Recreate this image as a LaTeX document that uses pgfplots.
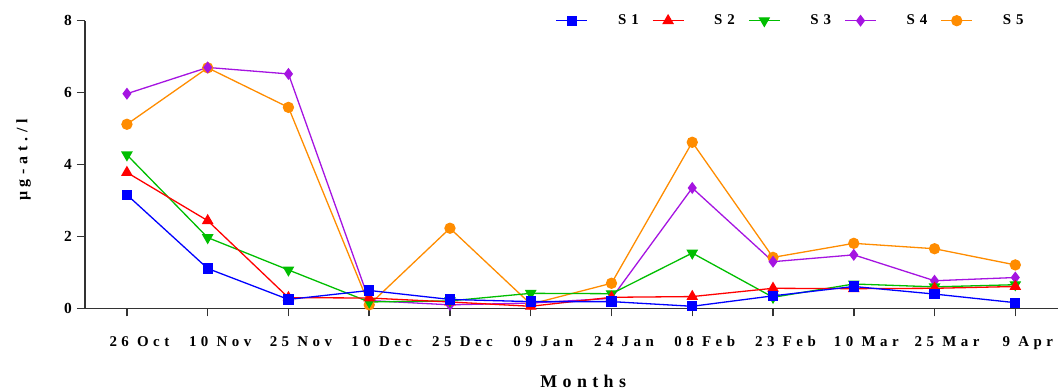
\documentclass[border=0pt]{standalone}
\usepackage{pgfplots}
\pgfplotsset{compat=1.18}
\usepackage{fontspec}
\setmainfont{Liberation Serif}
\newfontfamily\spaced{Liberation Serif}[LetterSpace=30]
\newfontfamily\legspaced{Liberation Serif}[LetterSpace=15]

\definecolor{sOne}{RGB}{0,0,255}
\definecolor{sTwo}{RGB}{255,0,0}
\definecolor{sThree}{RGB}{0,190,0}
\definecolor{sFour}{RGB}{165,20,225}
\definecolor{sFive}{RGB}{255,140,0}

% nutrient concentration per station, sampling dates 0..11
\pgfplotstableread{
x  s1    s2    s3    s4    s5
0  3.16  3.78  4.27  5.97  5.12
1  1.11  2.44  1.97  6.70  6.69
2  0.25  0.30  1.07  6.52  5.59
3  0.50  0.29  0.18  0.22  0.10
4  0.25  0.18  0.21  0.10  2.23
5  0.19  0.06  0.42  0.15  0.12
6  0.19  0.31  0.41  0.28  0.70
7  0.06  0.33  1.54  3.35  4.62
8  0.35  0.56  0.31  1.30  1.42
9  0.61  0.55  0.68  1.49  1.81
10 0.40  0.56  0.60  0.77  1.66
11 0.16  0.61  0.66  0.86  1.21
}\stations

\pgfplotsset{
  sA/.style={sOne, line width=1.3bp, mark=square*, mark size=4.5bp, mark options={solid}},
  sB/.style={sTwo, line width=1.3bp, mark=triangle*, mark size=5.5bp, mark options={solid}},
  sC/.style={sThree, line width=1.3bp, mark=triangle*, mark size=5.5bp, mark options={solid, rotate=180}},
  sD/.style={sFour, line width=1.3bp, mark=diamond*, mark size=5bp, mark options={solid}},
  sE/.style={sFive, line width=1.3bp, mark=*, mark size=5bp, mark options={solid}},
}

\begin{document}
\begin{tikzpicture}
\begin{axis}[
  scale only axis,
  width=974bp, height=288bp,
  xmin=-0.52, xmax=11.53,
  ymin=0, ymax=8,
  axis lines*=left,
  axis line style={line width=1.8bp, black!80},
  tick style={line width=1.5bp, black!80},
  tick align=outside,
  major tick length=8bp,
  xtick={0,...,11},
  xticklabels={26 Oct, 10 Nov, 25 Nov, 10 Dec, 25 Dec, 09 Jan, 24 Jan, 08 Feb, 23 Feb, 10 Mar, 25 Mar, 9 Apr},
  xticklabel style={font=\spaced\bfseries\fontsize{15}{15}\selectfont, anchor=north, inner sep=0pt, yshift=-20bp, xshift=12.5bp},
  ytick={0,2,4,6,8},
  yticklabel style={font=\bfseries\fontsize{15.5}{15.5}\selectfont, anchor=east, inner sep=0pt, xshift=-5bp},
  /pgf/number format/assume math mode=true,
  xlabel={Months},
  xlabel style={font=\spaced\bfseries\fontsize{18}{18}\selectfont, at={(axis description cs:0.512,0)}, anchor=base, yshift=-79bp},
  ylabel={\textmu g-at./l},
  ylabel style={font=\spaced\bfseries\fontsize{16}{16}\selectfont, at={(axis description cs:-0.0631,0.516)}, anchor=center},
  legend columns=5,
  legend style={draw=none, fill=none, at={(rel axis cs:0.4836,1)}, anchor=west, inner sep=0pt,
    font=\legspaced\bfseries\fontsize{15}{15}\selectfont,
    nodes={inner sep=0pt, text width=23bp, anchor=west},
    /tikz/every odd column/.append style={column sep=30bp},
    /tikz/every even column/.append style={column sep=11bp}},
  legend image code/.code={\draw[mark repeat=2, mark phase=2] plot coordinates {(0bp,0bp) (15.5bp,0bp) (31bp,0bp)};},
]
\addlegendimage{sA}\addlegendentry{S 1}
\addlegendimage{sB}\addlegendentry{S 2}
\addlegendimage{sC}\addlegendentry{S 3}
\addlegendimage{sD}\addlegendentry{S 4}
\addlegendimage{sE}\addlegendentry{S 5}
\addplot[sE, forget plot] table[x=x, y=s5] {\stations};
\addplot[sD, forget plot] table[x=x, y=s4] {\stations};
\addplot[sC, forget plot] table[x=x, y=s3] {\stations};
\addplot[sB, forget plot] table[x=x, y=s2] {\stations};
\addplot[sA, forget plot] table[x=x, y=s1] {\stations};
\end{axis}
\path[use as bounding box] ([shift={(-85bp,-81.3bp)}]current axis.south west) rectangle ([shift={(974bp,308.7bp)}]current axis.south west);
\end{tikzpicture}
\end{document}
